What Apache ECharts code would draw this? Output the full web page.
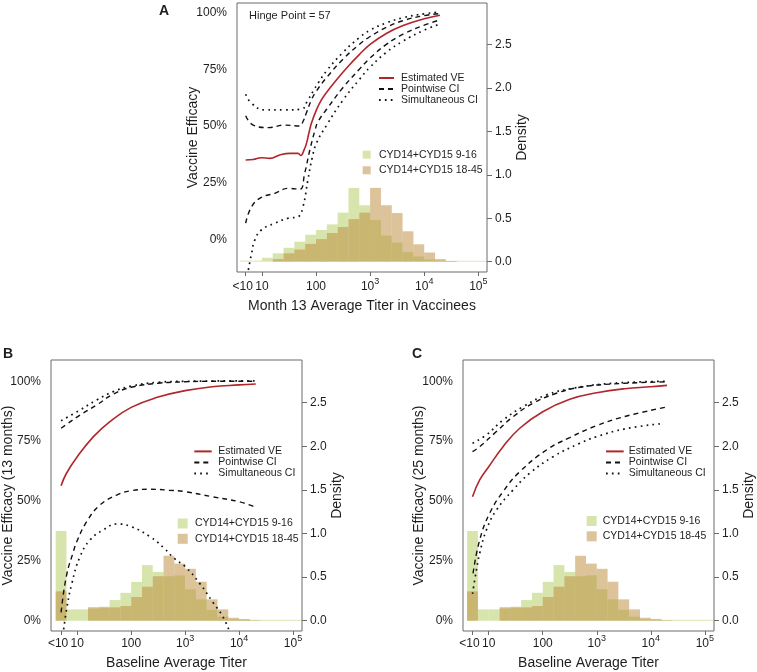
<!DOCTYPE html>
<html><head><meta charset="utf-8">
<script src="https://cdn.jsdelivr.net/npm/echarts@6/dist/echarts.min.js"></script>
<style>html,body{margin:0;padding:0;background:#fff}#c{width:757px;height:672px}</style>
</head><body><div id="c"></div><script>
// ---------- tick labels ----------
const xTickVals = [0.7, 1, 2, 3, 4, 5];           // log10 titer positions
const xTickLabels = ['<10', '10', '100', '10^3', '10^4', '10^5'];
const veTickVals = [0, 25, 50, 75, 100];
const densTickVals = [0, 0.5, 1, 1.5, 2, 2.5];

// ---------- histogram bins (log10 titer edges) ----------
const binEdges = [0.6, 0.8, 1.0, 1.2, 1.4, 1.6, 1.8, 2.0, 2.2, 2.4, 2.6, 2.8, 3.0, 3.2, 3.4, 3.6, 3.8, 4.0, 4.2, 4.4, 4.6, 4.8, 5.0, 5.15];
// Panel A: Month 13 titer density
const aGreen = [0.012, 0.012, 0.045, 0.096, 0.16, 0.23, 0.31, 0.365, 0.43, 0.565, 0.85, 0.65, 0.48, 0.30, 0.22, 0.11, 0.06, 0.025, 0.012, 0.01, 0.01, 0.01, 0.01];
const aTan   = [0, 0, 0, 0.03, 0.096, 0.14, 0.205, 0.26, 0.33, 0.40, 0.49, 0.565, 0.85, 0.65, 0.56, 0.35, 0.20, 0.105, 0.03, 0.008, 0, 0, 0];
// Panels B & C: baseline titer density
const bcGreen = [1.03, 0.13, 0.13, 0.14, 0.145, 0.237, 0.32, 0.445, 0.638, 0.56, 0.51, 0.52, 0.36, 0.245, 0.125, 0.046, 0.015, 0.01, 0.01, 0.01, 0.01, 0.01, 0.01];
const bcTan   = [0.337, 0, 0, 0.155, 0.16, 0.153, 0.168, 0.272, 0.39, 0.51, 0.745, 0.655, 0.595, 0.447, 0.245, 0.13, 0.034, 0.02, 0.005, 0, 0, 0, 0];

// ---------- curves: [log10 titer, VE %] ----------
const aEstVE = [[0.70,35.0],[0.84,35.2],[0.99,36.0],[1.15,35.7],[1.33,37.2],[1.52,37.9],[1.67,37.9],[1.72,37.0],[1.78,39.5],[1.82,42],[1.87,47],[1.915,51.2],[2.01,57.2],[2.1,61.5],[2.2,65],[2.4,71],[2.6,76.5],[2.8,81.5],[3.0,86],[3.3,90.8],[3.61,94.3],[4.0,97.3],[4.29,98.9]];
const aPwUp  = [[0.70,54.5],[0.84,50.4],[1.12,49.3],[1.42,50.4],[1.70,50.0],[1.76,52],[1.82,55.6],[1.915,61.5],[2.01,65.5],[2.2,71.5],[2.5,79.5],[2.8,86],[3.0,89.5],[3.3,93.5],[3.61,96.5],[4.0,98.7],[4.29,99.6]];
const aSimUp = [[0.70,64.0],[0.81,60],[1.055,57.1],[1.42,57.1],[1.73,57.4],[1.85,61.5],[1.95,65.5],[2.04,69],[2.2,74.5],[2.5,82.5],[2.8,89],[3.0,92.3],[3.3,95.5],[3.61,97.8],[4.0,99.5],[4.29,100.3]];
const aPwLo  = [[0.70,7.1],[0.81,14.4],[0.99,18.5],[1.24,20.3],[1.485,22.5],[1.70,22.1],[1.79,29.1],[1.886,39.4],[1.98,48],[2.04,52],[2.2,57.5],[2.5,67],[2.8,75],[3.0,80],[3.3,86],[3.61,90.5],[4.0,94.5],[4.29,96.8]];
const aSimLo = [[0.73,-16],[0.81,-6.2],[0.87,-0.3],[0.99,4.1],[1.24,7.1],[1.485,9.3],[1.67,10],[1.76,14.4],[1.85,26.2],[1.93,36],[2.01,42.5],[2.2,50.5],[2.5,61.5],[2.8,70.5],[3.0,76],[3.3,82.5],[3.61,87.5],[4.0,92.3],[4.29,95]];

const bEstVE = [[0.70,56.4],[0.80,61.6],[1.0,68.5],[1.30,76.9],[1.6,83.1],[2.0,89.1],[2.5,93.4],[3.0,96.1],[3.5,97.7],[4.0,98.5],[4.31,98.9]];
const bPwUp  = [[0.70,80.4],[0.80,82],[1.05,85.9],[1.36,90.1],[1.67,94.7],[2.0,97.5],[2.5,99.2],[3.0,99.8],[3.5,100],[4.31,100]];
const bSimUp = [[0.70,83.5],[1.05,88],[1.36,92.2],[1.67,95.7],[2.0,98],[2.5,99.6],[3.0,100],[4.31,100.2]];
const bPwLo  = [[0.70,3.5],[0.80,18.8],[0.93,29],[0.99,33],[1.175,41.4],[1.42,48.3],[1.73,52.5],[2.0,54.3],[2.35,54.9],[2.7,54.5],[3.0,53.9],[3.5,51.8],[4.0,49.7],[4.31,47.4]];
const bSimLo = [[0.735,-6],[0.80,4.5],[0.90,15.6],[1.05,26.7],[1.235,33.7],[1.48,37.9],[1.73,40.4],[2.0,39.3],[2.35,35.1],[2.6,30.5],[2.8,26],[3.0,22.6],[3.27,15.6],[3.52,7.5],[3.70,1.7],[3.85,-6]];

const cEstVE = [[0.70,51.8],[0.833,58.8],[1.0,64.3],[1.265,72.7],[1.574,80.4],[2.0,87.3],[2.5,92.5],[3.0,95.2],[3.52,96.9],[4.0,97.7],[4.30,98.3]];
const cPwUp  = [[0.70,70.6],[0.833,72.7],[1.142,79],[1.45,85.2],[1.82,90.8],[2.253,95],[2.685,97.5],[3.3,98.9],[4.30,99.8]];
const cSimUp = [[0.70,74.1],[0.957,77.6],[1.265,83.8],[1.636,89.4],[2.068,94.3],[2.562,97.1],[3.3,99.2],[4.30,100]];
const cPwLo  = [[0.71,19.8],[0.833,33.7],[1.018,44.9],[1.265,53.9],[1.574,62.2],[2.068,71.3],[2.5,76.5],[3.0,81.5],[3.52,85.3],[4.30,89.3]];
const cSimLo = [[0.70,11.2],[0.772,21.2],[0.833,28.2],[0.957,37.9],[1.142,46.2],[1.45,54.6],[1.759,61.6],[2.191,68.5],[2.685,74.1],[3.0,76.9],[3.52,80.1],[4.23,82.4]];

// ---------- styling ----------
const FONT = '"Liberation Sans", Arial, Helvetica, sans-serif';
const TXT = '#1e1e1e';
const FRAME = '#6a6a6a';
const RED = '#b0262b';
const GREEN = 'rgba(175,203,91,0.5)';
const TAN = 'rgba(185,135,53,0.5)';
const LINE_NAMES = ['Estimated VE', 'Pointwise CI', 'Simultaneous CI'];
const HIST_NAMES = ['CYD14+CYD15 9-16', 'CYD14+CYD15 18-45'];

function xLabel(v) {
  const i = xTickVals.findIndex(t => Math.abs(t - v) < 1e-6);
  if (i < 0) return '';
  const s = xTickLabels[i];
  if (s.indexOf('^') >= 0) { const p = s.split('^'); return '{b|' + p[0] + '}{s|' + p[1] + '}'; }
  return '{b|' + s + '}';
}
function bins(vals) {
  const out = [];
  for (let i = 0; i < vals.length; i++) if (vals[i] > 0) out.push([binEdges[i], binEdges[i + 1], vals[i]]);
  return out;
}

const panels = [
  { grid: {left: 237, top: 3, width: 250, height: 269}, xMin: 0.54, xMax: 5.16, veMin: -14.43, veMax: 104.28, dMin: -0.119, dMax: 2.98,
    veName: 'Vaccine Efficacy', xName: 'Month 13 Average Titer in Vaccinees', veGap: 37, dGap: 27, xGap: 27, xMargin: 5,
    green: aGreen, tan: aTan, est: aEstVE, pwUp: aPwUp, pwLo: aPwLo, simUp: aSimUp, simLo: aSimLo,
    lineLeg: {left: 378, top: 72.5, w: 15, pad: 2, lh: 10.3}, histLeg: {left: 362.7, top: 148.7, s: 8, pad: 3.3, gap: 3.6} },
  { grid: {left: 51, top: 360, width: 251, height: 271}, xMin: 0.513, xMax: 5.167, veMin: -4.3, veMax: 108.9, dMin: -0.118, dMax: 2.99,
    veName: 'Vaccine Efficacy (13 months)', xName: 'Baseline Average Titer', veGap: 35.5, dGap: 27, xGap: 25, xMargin: 3,
    green: bcGreen, tan: bcTan, est: bEstVE, pwUp: bPwUp, pwLo: bPwLo, simUp: bSimUp, simLo: bSimLo,
    lineLeg: {left: 193.3, top: 445.9, w: 17.4, pad: 1.6, lh: 10.2}, histLeg: {left: 177.7, top: 517.5, s: 10, pad: 2.3, gap: 3.3} },
  { grid: {left: 463, top: 360, width: 251, height: 271}, xMin: 0.524, xMax: 5.17, veMin: -4.3, veMax: 108.9, dMin: -0.118, dMax: 2.99,
    veName: 'Vaccine Efficacy (25 months)', xName: 'Baseline Average Titer', veGap: 37, dGap: 27, xGap: 25, xMargin: 3,
    green: bcGreen, tan: bcTan, est: cEstVE, pwUp: cPwUp, pwLo: cPwLo, simUp: cSimUp, simLo: cSimLo,
    lineLeg: {left: 605, top: 445.9, w: 17.7, pad: 0, lh: 10.2}, histLeg: {left: 586.7, top: 515, s: 10, pad: 1, gap: 3.3} }
];

const grid = [], xAxis = [], extraX = [], yAxis = [], series = [], legend = [];
const renderRect = (fill) => (params, api) => {
  const a = api.coord([api.value(0), api.value(2)]);
  const b = api.coord([api.value(1), 0]);
  return { type: 'rect', shape: {x: a[0], y: a[1], width: b[0] - a[0], height: b[1] - a[1]}, style: {fill: fill} };
};
const dashed = {color: '#111', width: 1.4, type: [5, 4]};
const dotted = {color: '#111', width: 1.7, type: [1.7, 4.2]};
const richX = { b: {fontSize: 12, lineHeight: 20, fontFamily: FONT, color: TXT}, s: {fontSize: 9, verticalAlign: 'top', fontFamily: FONT, color: TXT} };

panels.forEach((p, i) => {
  grid.push(Object.assign({show: true, borderColor: FRAME, borderWidth: 1, backgroundColor: 'transparent',
    containLabel: false, outerBoundsMode: 'none'}, p.grid));
  // main titer axis: decade ticks
  const mainVals = xTickVals.slice(1);
  xAxis.push({
    gridIndex: i, type: 'value', position: 'bottom', min: p.xMin, max: p.xMax,
    axisLine: {show: false, onZero: false}, splitLine: {show: false},
    axisTick: {show: true, customValues: mainVals, length: 4, lineStyle: {color: FRAME}},
    axisLabel: {customValues: mainVals, formatter: xLabel, margin: p.xMargin, color: TXT, hideOverlap: false,
      showMinLabel: true, showMaxLabel: true, alignMinLabel: 'center', alignMaxLabel: 'center', rich: richX },
    name: p.xName, nameLocation: 'middle', nameGap: p.xGap,
    nameTextStyle: {fontSize: 14, color: TXT, fontFamily: FONT}
  });
  // companion axis on the same grid carrying the "<10" tick
  const lowVals = xTickVals.slice(0, 1);
  extraX.push({
    gridIndex: i, type: 'value', position: 'bottom', offset: 0, min: p.xMin, max: p.xMax,
    axisLine: {show: false, onZero: false}, splitLine: {show: false},
    axisTick: {show: true, customValues: lowVals, length: 4, lineStyle: {color: FRAME}},
    axisLabel: {customValues: lowVals, formatter: xLabel, margin: p.xMargin, color: TXT, hideOverlap: false,
      padding: [0, 6, 0, 0],
      showMinLabel: true, showMaxLabel: true, alignMinLabel: 'center', alignMaxLabel: 'center', rich: richX }
  });
  yAxis.push({
    gridIndex: i, type: 'value', position: 'left', min: p.veMin, max: p.veMax,
    axisLine: {show: false, onZero: false}, splitLine: {show: false}, axisTick: {show: false},
    axisLabel: {customValues: veTickVals, formatter: v => v + '%', margin: 10, fontSize: 12, color: TXT, fontFamily: FONT},
    name: p.veName, nameLocation: 'middle', nameGap: p.veGap, nameRotate: 90, nameMoveOverlap: false,
    nameTextStyle: {fontSize: 14, color: TXT, fontFamily: FONT}
  });
  yAxis.push({
    gridIndex: i, type: 'value', position: 'right', min: p.dMin, max: p.dMax,
    axisLine: {show: false, onZero: false}, splitLine: {show: false},
    axisTick: {show: true, customValues: densTickVals, length: 5, lineStyle: {color: FRAME}},
    axisLabel: {customValues: densTickVals, formatter: v => v.toFixed(1), margin: 8, fontSize: 12, color: TXT, fontFamily: FONT},
    name: 'Density', nameLocation: 'middle', nameGap: p.dGap, nameRotate: 90,
    nameTextStyle: {fontSize: 14, color: TXT, fontFamily: FONT}
  });
  const common = {xAxisIndex: i, animation: false, silent: true};
  series.push(Object.assign({type: 'custom', name: HIST_NAMES[0], yAxisIndex: 2 * i + 1, data: bins(p.green), encode: {x: [0, 1], y: 2},
    itemStyle: {color: GREEN}, renderItem: renderRect(GREEN), clip: true, z: 1}, common));
  series.push(Object.assign({type: 'custom', name: HIST_NAMES[1], yAxisIndex: 2 * i + 1, data: bins(p.tan), encode: {x: [0, 1], y: 2},
    itemStyle: {color: TAN}, renderItem: renderRect(TAN), clip: true, z: 2}, common));
  const line = (name, data, ls) => Object.assign({type: 'line', name: name, yAxisIndex: 2 * i, data: data, symbol: 'none',
    smooth: 0.45, clip: true, lineStyle: ls, itemStyle: {color: ls.color}, z: 5}, common);
  series.push(line(LINE_NAMES[1], p.pwUp, dashed));
  series.push(line(LINE_NAMES[1], p.pwLo, dashed));
  series.push(line(LINE_NAMES[2], p.simUp, dotted));
  series.push(line(LINE_NAMES[2], p.simLo, dotted));
  series.push(line(LINE_NAMES[0], p.est, {color: RED, width: 1.6}));

  const L = p.lineLeg;
  legend.push({orient: 'vertical', left: L.left, top: L.top, padding: 0, itemGap: 0, itemWidth: L.w, itemHeight: 10,
    selectedMode: false, data: LINE_NAMES, itemStyle: {opacity: 0},
    textStyle: {fontSize: 10.5, color: TXT, fontFamily: FONT, lineHeight: L.lh, padding: [0, 0, 0, L.pad]}});
  const H = p.histLeg;
  legend.push({orient: 'vertical', left: H.left, top: H.top, padding: 0, itemGap: H.gap, itemWidth: H.s, itemHeight: H.s,
    selectedMode: false, icon: 'rect', data: HIST_NAMES,
    textStyle: {fontSize: 10.5, color: TXT, fontFamily: FONT, lineHeight: 12, padding: [0, 0, 0, H.pad]}});
});

const chart = echarts.init(document.getElementById('c'), null, {renderer: 'canvas'});
chart.setOption({
  animation: false,
  backgroundColor: '#fff',
  textStyle: {fontFamily: FONT},
  grid, xAxis: xAxis.concat(extraX), yAxis, series, legend,
  graphic: [
    {type: 'text', left: 159, top: 4, style: {text: 'A', fontSize: 14, fontWeight: 'bold', fontFamily: FONT, fill: TXT}},
    {type: 'text', left: 3, top: 347, style: {text: 'B', fontSize: 14, fontWeight: 'bold', fontFamily: FONT, fill: TXT}},
    {type: 'text', left: 412, top: 347, style: {text: 'C', fontSize: 14, fontWeight: 'bold', fontFamily: FONT, fill: TXT}},
    {type: 'text', left: 249, top: 10, style: {text: 'Hinge Point = 57', fontSize: 11, fontFamily: FONT, fill: TXT}}
  ]
});
</script></body></html>
